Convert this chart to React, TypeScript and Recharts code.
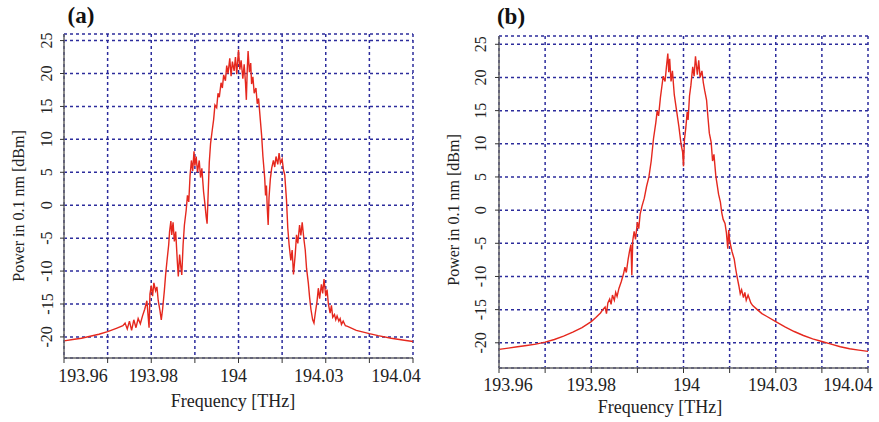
import React from 'react';
import { LineChart, Line, XAxis, YAxis, CartesianGrid } from 'recharts';

// frequency axis (THz) – grid every 0.01, labels as printed on the original plot
const xTicks = [193.96, 193.97, 193.98, 193.99, 194.0, 194.01, 194.02, 194.03, 194.04];
const xTickLabels = ['193.96', '', '193.98', '', '194', '', '194.03', '', '194.04'];
const yTicks = [-20, -15, -10, -5, 0, 5, 10, 15, 20, 25];

// (a) spectrum
const freqA = [
  193.960, 193.962, 193.964, 193.966, 193.968, 193.970, 193.972, 193.9735, 193.974, 193.9745,
  193.975, 193.9755, 193.976, 193.9765, 193.977, 193.9775, 193.978, 193.9785, 193.979, 193.9795,
  193.9797, 193.980, 193.9803, 193.9806, 193.981, 193.9813, 193.9816, 193.982, 193.9823, 193.9826,
  193.983, 193.9833, 193.9836, 193.984, 193.9842, 193.9845, 193.9847, 193.985, 193.9853, 193.9856,
  193.986, 193.9862, 193.9865, 193.9868, 193.987, 193.9873, 193.9876, 193.988, 193.9883, 193.9886,
  193.9889, 193.9892, 193.9895, 193.9898, 193.990, 193.9903, 193.9906, 193.991, 193.9913, 193.9916,
  193.992, 193.9923, 193.9926, 193.9928, 193.9933, 193.9936, 193.994, 193.9943, 193.9946, 193.995,
  193.9953, 193.9956, 193.996, 193.9963, 193.9966, 193.997, 193.9973, 193.9976, 193.998, 193.9983,
  193.9986, 193.999, 193.9993, 193.9996, 194.000, 194.0003, 194.0006, 194.001, 194.0013, 194.0016,
  194.0018, 194.002, 194.0022, 194.0025, 194.0028, 194.003, 194.0033, 194.0036, 194.004, 194.0043,
  194.0046, 194.005, 194.0053, 194.0056, 194.006, 194.0062, 194.0064, 194.0066, 194.0068, 194.007,
  194.0073, 194.0076, 194.008, 194.0083, 194.0086, 194.009, 194.0093, 194.0096, 194.010, 194.0103,
  194.0106, 194.011, 194.0113, 194.0116, 194.012, 194.0123, 194.0126, 194.013, 194.0133, 194.0136,
  194.014, 194.0143, 194.0146, 194.015, 194.0153, 194.0156, 194.016, 194.0163, 194.0166, 194.017,
  194.0173, 194.0176, 194.018, 194.0183, 194.0186, 194.019, 194.0193, 194.0196, 194.020, 194.0203,
  194.0206, 194.021, 194.0213, 194.0216, 194.022, 194.0223, 194.0226, 194.023, 194.0233, 194.0236,
  194.024, 194.0245, 194.025, 194.027, 194.030, 194.032, 194.035, 194.038, 194.040,
];
const powerA = [
  -20.6, -20.4, -20.2, -19.9, -19.6, -19.2, -18.7, -18.3, -17.9, -18.8,
  -17.6, -19.0, -17.4, -18.6, -17.2, -18.0, -16.8, -15.8, -14.5, -18.6,
  -13.5, -12.2, -13.8, -11.8, -13.0, -12.4, -14.5, -16.0, -17.4, -15.8,
  -13.0, -10.5, -8.5, -6.0, -4.0, -2.4, -4.5, -2.6, -5.5, -4.0,
  -8.8, -10.8, -7.5, -9.5, -10.6, -6.0, -3.0, -0.8, 1.5, 0.5,
  4.5, 6.8, 5.2, 8.2, 6.0, 7.4, 5.0, 6.8, 4.2, 5.6,
  2.0, 0.2, -1.8, -2.8, 6.5, 9.4, 11.5, 13.0, 15.2, 14.8,
  17.0, 16.4, 18.6, 17.8, 19.8, 18.9, 21.2, 20.0, 22.3, 19.6,
  21.8, 20.4, 22.5, 19.9, 23.6, 20.6, 22.0, 19.2, 21.4, 18.6,
  16.0, 20.5, 23.4, 20.2, 21.6, 18.4, 19.5, 17.0, 17.8, 15.4,
  16.2, 13.0, 10.6, 7.4, 4.2, 1.5, 3.0, -0.5, -3.0, 1.2,
  4.0, 5.6, 6.8, 5.8, 7.4, 6.2, 7.9, 6.4, 7.0, 5.4,
  4.6, 0.8, -3.5, -6.0, -8.4, -6.8, -10.5, -7.5, -4.5, -5.8,
  -3.0, -4.6, -2.6, -5.2, -6.8, -9.6, -11.8, -14.0, -15.8, -17.4,
  -17.9, -16.4, -14.6, -12.6, -14.2, -12.0, -13.4, -11.2, -13.8, -12.8,
  -15.0, -16.4, -15.2, -17.0, -16.6, -17.4, -16.8, -17.6, -17.2, -18.1,
  -17.6, -18.3, -18.4, -19.0, -19.5, -19.8, -20.2, -20.5, -20.7,
];

// (b) spectrum
const freqB = [
  193.960, 193.962, 193.964, 193.966, 193.968, 193.970, 193.972, 193.974, 193.976, 193.978,
  193.980, 193.981, 193.982, 193.9825, 193.983, 193.9833, 193.9836, 193.984, 193.9843, 193.9846,
  193.985, 193.9853, 193.9856, 193.986, 193.9865, 193.987, 193.9873, 193.9876, 193.988, 193.9883,
  193.9886, 193.9888, 193.989, 193.9893, 193.9896, 193.990, 193.9903, 193.9906, 193.991, 193.9915,
  193.992, 193.9925, 193.993, 193.9935, 193.994, 193.9943, 193.9946, 193.995, 193.9953, 193.9956,
  193.996, 193.9963, 193.9966, 193.9968, 193.997, 193.9973, 193.9976, 193.998, 193.9985, 193.999,
  193.9995, 193.9998, 194.000, 194.0002, 194.0005, 194.0008, 194.001, 194.0013, 194.0016, 194.002,
  194.0023, 194.0026, 194.003, 194.0033, 194.0036, 194.004, 194.0043, 194.0046, 194.005, 194.0053,
  194.0056, 194.006, 194.0063, 194.0066, 194.007, 194.0073, 194.0076, 194.008, 194.0083, 194.0086,
  194.009, 194.0093, 194.0096, 194.0098, 194.010, 194.0105, 194.011, 194.0113, 194.0116, 194.012,
  194.0123, 194.0126, 194.013, 194.0133, 194.0136, 194.014, 194.0143, 194.0146, 194.015, 194.016,
  194.017, 194.018, 194.020, 194.022, 194.024, 194.026, 194.028, 194.030, 194.032, 194.034,
  194.036, 194.038, 194.040,
];
const powerB = [
  -21.0, -20.8, -20.6, -20.4, -20.2, -19.9, -19.5, -19.0, -18.4, -17.7,
  -16.8, -16.2, -15.5, -15.0, -14.6, -15.6, -14.0, -13.4, -14.2, -12.8,
  -13.6, -12.4, -13.0, -11.8, -10.8, -9.6, -8.6, -9.4, -7.4, -6.2,
  -5.2, -9.8, -4.6, -3.2, -4.4, -1.8, -2.8, -0.6, 0.6, 1.8,
  3.6, 5.0, 7.4, 10.8, 13.2, 15.0, 14.2, 17.0, 18.6, 20.2,
  19.4, 21.6, 23.6, 20.8, 22.8, 19.4, 21.0, 17.4, 15.0, 12.6,
  9.8, 8.8, 6.6, 10.6, 12.4, 14.8, 13.6, 17.2, 18.8, 21.6,
  20.2, 23.2, 20.4, 22.6, 20.0, 21.0, 19.2, 18.0, 16.6, 14.0,
  11.6, 10.2, 7.4, 8.4, 5.2, 3.8, 2.4, 1.2, -0.4, -1.4,
  -2.0, -3.4, -5.8, -3.0, -4.6, -6.2, -7.4, -8.8, -10.0, -11.4,
  -12.6, -12.0, -13.2, -12.4, -13.6, -12.8, -13.4, -14.0, -14.4, -15.0,
  -15.6, -16.0, -16.8, -17.6, -18.3, -18.9, -19.4, -19.8, -20.2, -20.6,
  -20.9, -21.1, -21.3,
];

const SERIF = '"Liberation Serif", "Times New Roman", serif';
const GRID = '#2c2c9c';
const FRAME = '#666';

// edge labels sit inside the frame on the original, so nudge them per tick
const xShiftA = [19, 0, 2, 0, -5, 0, -7, 0, -17];
const xShiftB = [9, 0, 0, 0, 3, 0, -3, 0, -20];

function XTick({ x, y, payload, index, shifts }: any) {
  const label = xTickLabels[index] ?? '';
  if (!label) return <g />;
  return (
    <text x={x + (shifts?.[index] ?? 0)} y={y} dy="0.71em" textAnchor="middle" fontFamily={SERIF} fontSize={18} fill="#222">
      {label}
    </text>
  );
}

function YTick({ x, y, payload, off }: any) {
  const cx = x - off;
  return (
    <text x={cx} y={y} transform={`rotate(-90 ${cx} ${y})`} textAnchor="middle" dominantBaseline="central"
      fontFamily={SERIF} fontSize={16} fill="#222">{payload?.value}</text>
  );
}

interface PanelProps {
  freq: number[];
  power: number[];
  width: number;
  height: number;
  top: number;
  right: number;
  yWidth: number;
  xHeight: number;
  yDomain: [number, number];
  tickGap: number;
  yTickOff: number;
  shifts: number[];
  xLabelX: number;
  xLabelY: number;
  yLabelX: number;
  yLabelY: number;
}

function SpectrumPanel(p: PanelProps) {
  const data = p.freq.map((f, i) => ({ f, p: p.power[i] }));
  return (
    <LineChart width={p.width} height={p.height} data={data} margin={{ top: p.top, right: p.right, bottom: 0, left: 0 }}>
      <CartesianGrid stroke={GRID} strokeDasharray="3 3" strokeWidth={1.5} />
      <XAxis dataKey="f" type="number" domain={[193.96, 194.04]} ticks={xTicks} interval={0} allowDataOverflow
        height={p.xHeight} tickSize={5} tickMargin={p.tickGap}
        axisLine={{ stroke: FRAME, strokeWidth: 1.5 }} tickLine={{ stroke: '#333' }}
        tick={(t: any) => <XTick {...t} shifts={p.shifts} />}
        label={{
          content: () => (
            <text x={p.xLabelX} y={p.xLabelY} textAnchor="middle" fontFamily={SERIF} fontSize={18} fill="#222">
              Frequency [THz]
            </text>
          ),
        }} />
      <XAxis xAxisId="top" orientation="top" type="number" domain={[193.96, 194.04]} height={0}
        tick={false} tickLine={false} axisLine={{ stroke: FRAME, strokeWidth: 1.5 }} />
      <YAxis type="number" domain={p.yDomain} ticks={yTicks} interval={0} allowDataOverflow width={p.yWidth}
        tickSize={4} tickMargin={2} axisLine={{ stroke: FRAME, strokeWidth: 1.5 }} tickLine={{ stroke: '#333' }}
        tick={(t: any) => <YTick {...t} off={p.yTickOff} />}
        label={{
          content: () => (
            <text x={p.yLabelX} y={p.yLabelY} transform={`rotate(-90 ${p.yLabelX} ${p.yLabelY})`} textAnchor="middle"
              dominantBaseline="central" fontFamily={SERIF} fontSize={16} fill="#222">
              Power in 0.1 nm [dBm]
            </text>
          ),
        }} />
      <YAxis yAxisId="right" orientation="right" type="number" domain={p.yDomain} width={0}
        tick={false} tickLine={false} axisLine={{ stroke: FRAME, strokeWidth: 1.5 }} />
      <Line type="linear" dataKey="p" stroke="#e5281e" strokeWidth={1.4} dot={false} isAnimationActive={false} />
    </LineChart>
  );
}

const titleStyle: React.CSSProperties = {
  position: 'absolute', fontFamily: SERIF, fontWeight: 'bold', fontSize: 23, lineHeight: '23px',
  color: '#111', width: 40, textAlign: 'center',
};

export default function App() {
  return (
    <div style={{ position: 'absolute', left: 0, top: 0, width: 879, height: 422, background: '#fff', overflow: 'hidden' }}>
      <div style={{ position: 'absolute', left: 0, top: 0 }}>
        <SpectrumPanel freq={freqA} power={powerA} width={440} height={422} top={34} right={27} yWidth={64} xHeight={64}
          yDomain={[-23.2, 26]} tickGap={6} yTickOff={11} shifts={xShiftA}
          xLabelX={233} xLabelY={407} yLabelX={18.5} yLabelY={206} />
      </div>
      <div style={{ position: 'absolute', left: 440, top: 0 }}>
        <SpectrumPanel freq={freqB} power={powerB} width={439} height={422} top={36} right={11} yWidth={59} xHeight={54}
          yDomain={[-23.8, 26.25]} tickGap={5} yTickOff={12} shifts={xShiftB}
          xLabelX={220} xLabelY={413} yLabelX={13} yLabelY={210} />
      </div>
      <div style={{ ...titleStyle, left: 61, top: 4 }}>(a)</div>
      <div style={{ ...titleStyle, left: 491, top: 5 }}>(b)</div>
    </div>
  );
}
